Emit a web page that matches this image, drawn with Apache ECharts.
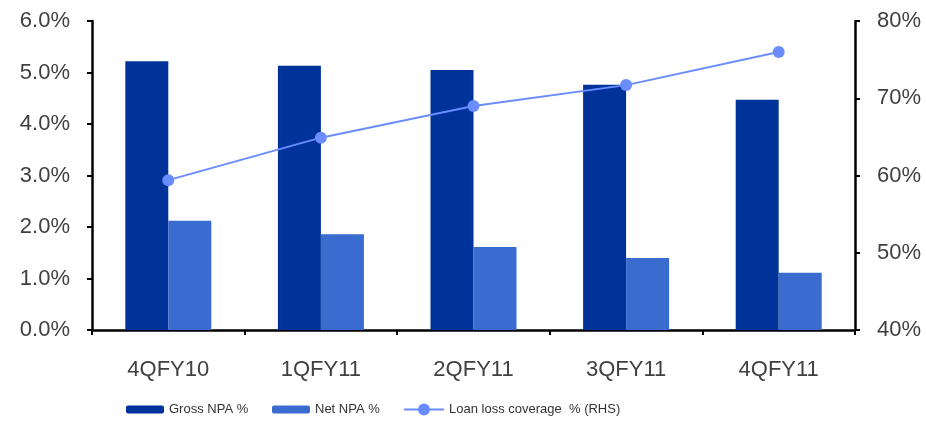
<!DOCTYPE html>
<html>
<head>
<meta charset="utf-8">
<script src="https://cdn.jsdelivr.net/npm/echarts@6/dist/echarts.min.js"></script>
<style>
html,body{margin:0;padding:0;background:#fff;}
#chart{width:926px;height:421px;}
</style>
</head>
<body>
<div id="chart"></div>
<script>
const categories = ['4QFY10', '1QFY11', '2QFY11', '3QFY11', '4QFY11'];
const grossNPA = [5.22, 5.13, 5.05, 4.76, 4.47];
const netNPA = [2.12, 1.86, 1.61, 1.40, 1.11];
const loanLossCoverage = [59.4, 64.9, 69.0, 71.7, 76.0];
const leftTicks = { min: 0, max: 6, interval: 1 };
const rightTicks = { min: 40, max: 80, interval: 10 };

const FONT = '"Liberation Sans", Arial, sans-serif';
const axisLabelColor = '#404040';

const chart = echarts.init(document.getElementById('chart'), null, { renderer: 'canvas' });
const legendBase = {
  top: 403,
  itemHeight: 8,
  itemGap: 0,
  textStyle: { fontFamily: FONT, fontSize: 13, color: '#333', padding: [0, 0, 0, 0] },
  selectedMode: false,
  padding: 0
};
chart.setOption({
  animation: false,
  backgroundColor: '#fff',
  grid: { left: 92, right: 71, top: 21, bottom: 91 },
  legend: [
    Object.assign({}, legendBase, { left: 126, itemWidth: 38, data: ['Gross NPA %'] }),
    Object.assign({}, legendBase, { left: 272, itemWidth: 38, data: ['Net NPA %'] }),
    Object.assign({}, legendBase, { left: 403, itemWidth: 40, itemHeight: 15, data: ['Loan loss coverage  % (RHS)'] })
  ],
  xAxis: {
    type: 'category',
    data: categories,
    axisLine: { lineStyle: { color: '#000', width: 2.5 } },
    axisTick: { show: true, length: 5, lineStyle: { color: '#000', width: 2 } },
    axisLabel: { fontFamily: FONT, fontSize: 22, color: axisLabelColor, margin: 29 }
  },
  yAxis: [
    {
      type: 'value',
      min: leftTicks.min, max: leftTicks.max, interval: leftTicks.interval,
      position: 'left',
      axisLine: { show: true, lineStyle: { color: '#000', width: 2.5 } },
      axisTick: { show: true, length: 5, lineStyle: { color: '#000', width: 2 } },
      splitLine: { show: false },
      axisLabel: {
        fontFamily: FONT, fontSize: 22, color: axisLabelColor, margin: 22,
        formatter: v => v.toFixed(1) + '%'
      }
    },
    {
      type: 'value',
      min: rightTicks.min, max: rightTicks.max, interval: rightTicks.interval,
      position: 'right',
      axisLine: { show: true, lineStyle: { color: '#000', width: 2.5 } },
      axisTick: { show: true, length: 5, lineStyle: { color: '#000', width: 2 } },
      splitLine: { show: false },
      axisLabel: {
        fontFamily: FONT, fontSize: 22, color: axisLabelColor, margin: 22,
        formatter: v => v + '%'
      }
    }
  ],
  series: [
    {
      name: 'Gross NPA %',
      type: 'bar',
      data: grossNPA,
      barWidth: 43,
      barGap: '0%',
      itemStyle: { color: '#003399' }
    },
    {
      name: 'Net NPA %',
      type: 'bar',
      data: netNPA,
      barWidth: 43,
      barGap: '0%',
      itemStyle: { color: '#3A6BCF' }
    },
    {
      name: 'Loan loss coverage  % (RHS)',
      type: 'line',
      yAxisIndex: 1,
      data: loanLossCoverage,
      symbol: 'circle',
      symbolSize: 12,
      lineStyle: { color: '#6A8CFF', width: 2 },
      itemStyle: { color: '#6A8CFF' }
    }
  ]
});
</script>
</body>
</html>
